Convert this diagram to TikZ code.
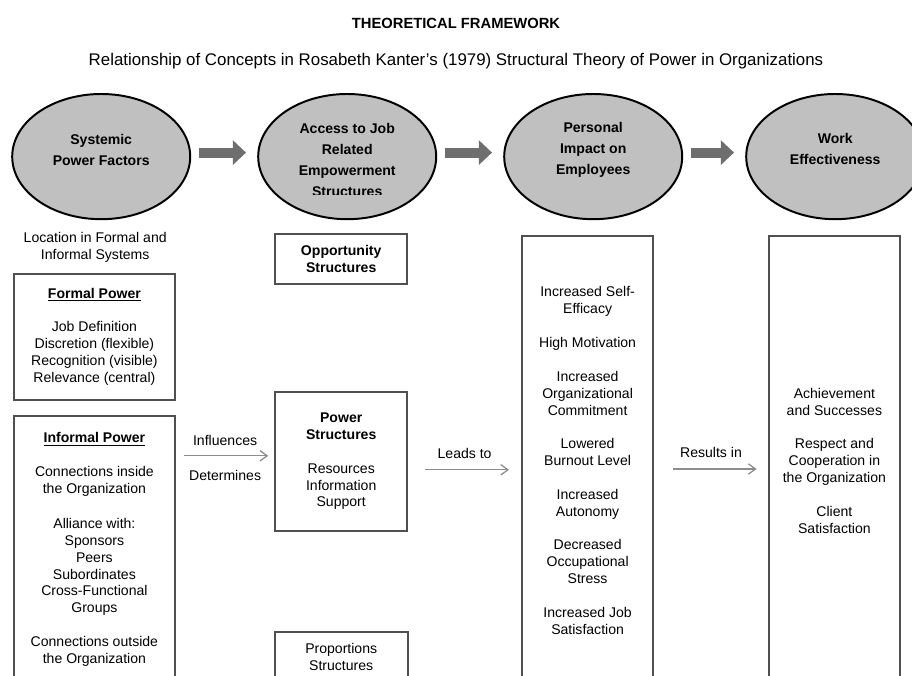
\documentclass[tikz,border=0pt]{standalone}
\usepackage{fontspec}
\setmainfont{Liberation Sans}
\usepackage{xcolor}
\definecolor{bubblefill}{HTML}{C0C0C0}
\definecolor{boxline}{HTML}{505050}
\definecolor{blockgray}{HTML}{6E6E6E}
\definecolor{flowgray}{HTML}{8C8C8C}
\usepackage{tikz}
\usetikzlibrary{positioning,shapes.geometric,arrows.meta}

\begin{document}
\begin{tikzpicture}[
  bubble/.style={ellipse, draw=black, line width=1.4pt, fill=bubblefill, minimum width=4.45cm, minimum height=3.13cm},
  bubbletext/.style={font=\fontsize{10}{15}\selectfont\bfseries, align=center},
  textbox/.style={draw=boxline, line width=1.4pt, font=\fontsize{10}{12}\selectfont, align=center, inner sep=0pt},
  plaintext/.style={font=\fontsize{10}{12}\selectfont, align=center, inner sep=0pt, text=black},
  bigarrow/.style={blockgray, line width=0.25cm, -{Triangle[length=0.33cm,width=0.6cm]}, shorten <=0.2cm, shorten >=0.28cm},
  flowarrow/.style={flowgray, line width=0.9pt, -{Straight Barb[length=1.8mm,width=2.6mm]}}
]
  \clip (0,0) rectangle (22.8,16.875);

  % heading
  \node[font=\fontsize{10.5}{12}\selectfont\bfseries] (title) at (11.4,16.28) {THEORETICAL FRAMEWORK};
  \node[plaintext, font=\fontsize{12}{14}\selectfont] (subtitle) at (11.4,15.35) {Relationship of Concepts in Rosabeth Kanter's (1979) Structural Theory of Power in Organizations};

  % the four concepts
  \node[bubble] (sysell) at (2.53,12.96) {};
  \node[bubble] (accell) at (8.68,12.96) {};
  \node[bubble] (impell) at (14.83,12.96) {};
  \node[bubble] (effell) at (20.88,12.96) {};
  \node[bubbletext] (systext) at (2.53,13.13) {Systemic\\Power Factors};
  \begin{scope}
    \clip (6.3,12.0) rectangle (11,15);
    \node[bubbletext] (acctext) at (8.68,12.88) {Access to Job\\Related\\Empowerment\\Structures};
  \end{scope}
  \node[bubbletext] (imptext) at (14.83,13.13) {Personal\\Impact on\\Employees};
  \node[bubbletext] (efftext) at (20.88,13.14) {Work\\Effectiveness};

  \draw[bigarrow] ([yshift=1mm]sysell.east) -- ([yshift=1mm]accell.west);
  \draw[bigarrow] ([yshift=1mm]accell.east) -- ([yshift=1mm]impell.west);
  \draw[bigarrow] ([yshift=1mm]impell.east) -- ([yshift=1mm]effell.west);

  % systemic power factors
  \node[plaintext] (location) at (2.38,10.7) {Location in Formal and\\Informal Systems};
  \node[textbox, minimum width=4.03cm, minimum height=3.15cm] (formal) at (2.36,8.46)
    {\underline{\textbf{Formal Power}}\\[12pt]Job Definition\\Discretion (flexible)\\Recognition (visible)\\Relevance (central)};
  \node[textbox, minimum width=4.03cm, minimum height=6.68cm] (informal) at (2.36,3.14)
    {\underline{\textbf{Informal Power}}\\[12pt]Connections inside\\the Organization\\[13pt]Alliance with:\\Sponsors\\Peers\\Subordinates\\Cross-Functional\\Groups\\[12pt]Connections outside\\the Organization};

  % empowerment structures
  \node[textbox, minimum width=3.3cm, minimum height=1.25cm] (opportunity) at (8.53,10.4)
    {\textbf{Opportunity}\\\textbf{Structures}};
  \node[textbox, minimum width=3.3cm, minimum height=3.48cm] (power) at (8.53,5.34)
    {\textbf{Power}\\\textbf{Structures}\\[12pt]Resources\\Information\\Support};
  \node[textbox, minimum width=3.33cm, minimum height=1.25cm] (proportions) at (8.53,0.45)
    {Proportions\\Structures};

  % outcomes
  \node[textbox, minimum width=3.28cm, minimum height=11.23cm] (impact) at (14.69,5.36)
    {Increased Self-\\Efficacy\\[12pt]High Motivation\\[12pt]Increased\\Organizational\\Commitment\\[12pt]Lowered\\Burnout Level\\[12pt]Increased\\Autonomy\\[12pt]Decreased\\Occupational\\Stress\\[12pt]Increased Job\\Satisfaction};
  \node[textbox, minimum width=3.28cm, minimum height=11.23cm] (effect) at (20.86,5.36)
    {Achievement\\and Successes\\[12pt]Respect and\\Cooperation in\\the Organization\\[12pt]Client\\Satisfaction};

  % relations
  \draw[flowarrow, shorten <=0.2cm, shorten >=0.15cm] ([yshift=1.4mm]power.west -| informal.east) -- ([yshift=1.4mm]power.west)
    node[plaintext, midway, above=7pt] (influences) {Influences}
    node[plaintext, midway, below=9.9pt] (determines) {Determines};
  \draw[flowarrow, shorten <=0.43cm, shorten >=0.3cm] ([yshift=-2.1mm]power.east) -- ([yshift=-2.1mm]power.east -| impact.west)
    node[plaintext, midway, above=7.8pt] (leads) {Leads to};
  \draw[flowarrow, shorten <=0.47cm, shorten >=0.28cm] ([yshift=-2.1mm]impact.east) -- ([yshift=-2.1mm]effect.west)
    node[plaintext, midway, above=7.8pt] (results) {Results in};
\end{tikzpicture}
\end{document}
